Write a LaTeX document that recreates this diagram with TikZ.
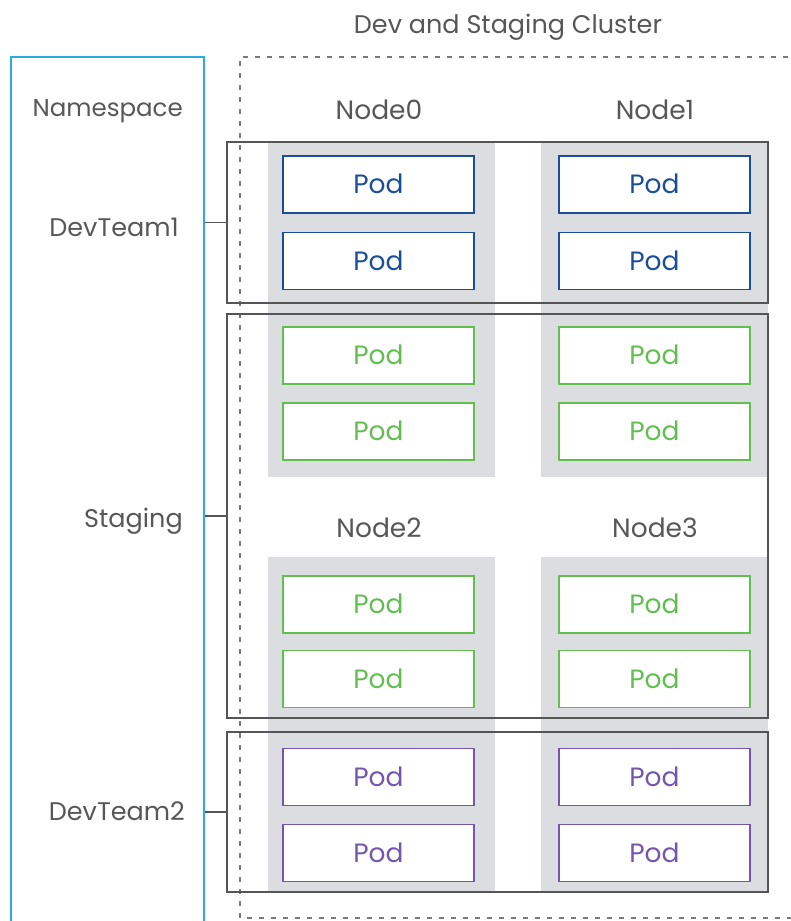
\documentclass[tikz,border=0pt]{standalone}
\usepackage{fontspec}
\setmainfont{Poppins}
\definecolor{txtgray}{HTML}{575757}
\definecolor{nsblue}{HTML}{2AABE2}
\definecolor{podblue}{HTML}{1A4F98}
\definecolor{podgreen}{HTML}{62BF4F}
\definecolor{podpurple}{HTML}{7456AE}
\definecolor{colgray}{HTML}{DCDDE0}
\definecolor{rectgray}{HTML}{555555}
\begin{document}
\begin{tikzpicture}[x=1pt,y=-1pt,
  lbl/.style={text=txtgray,font=\fontsize{25.5}{30}\selectfont,inner sep=0pt,anchor=base},
  nodelbl/.style={lbl,font=\fontsize{26.5}{30}\selectfont},
  nslbl/.style={lbl,anchor=base east},
  pod/.style={draw=#1,text=#1,line width=1.3pt,fill=white,minimum width=191pt,minimum height=57pt,inner sep=0pt,text height=18pt,text depth=0pt,font=\fontsize{26.5}{30}\selectfont},
  nsrect/.style={draw=rectgray,line width=1.4pt,minimum width=541pt,minimum height=#1,inner sep=0pt},
  col/.style={fill=colgray,draw=none,minimum width=227pt,minimum height=335pt,inner sep=0pt},
  cluster/.style={draw=txtgray!80,line width=1.4pt,dash pattern=on 5pt off 7pt}
]
\useasboundingbox (0,0) rectangle (790,921);
% gray node columns
\node[col] (c0) at (381.5,309.5) {};
\node[col] (c1) at (654.5,309.5) {};
\node[col] (c2) at (381.5,724.5) {};
\node[col] (c3) at (654.5,724.5) {};
% namespace box
\node[draw=nsblue,line width=1.3pt,minimum width=193pt,minimum height=900pt,inner sep=0pt] (ns) at (107.5,507) {};
% cluster
\coordinate (cl1) at (800,57);
\coordinate (cl2) at (240,57);
\coordinate (cl3) at (240,918);
\coordinate (cl4) at (800,918);
\draw[cluster] (cl1) -- (cl2) -- (cl3) -- (cl4);
\node[lbl] (clt) at (508,33) {Dev and Staging Cluster};
% namespace rects
\node[nsrect=161pt] (r1) at (497.5,222.5) {};
\node[nsrect=404pt] (r2) at (497.5,516) {};
\node[nsrect=160pt] (r3) at (497.5,812) {};
\draw[rectgray,line width=1.4pt] (r1.west) -- (r1.west -| ns.east);
\draw[rectgray,line width=1.4pt] (r2.west) -- (r2.west -| ns.east);
\draw[rectgray,line width=1.4pt] (r3.west) -- (r3.west -| ns.east);
% labels
\node[nslbl,font=\fontsize{24.5}{30}\selectfont] (nsl) at (183,116) {Namespace};
\node[nslbl] (d1) at (179,236) {DevTeam1};
\node[nslbl] (st) at (183,527) {Staging};
\node[nslbl] (d2) at (185,820) {DevTeam2};
\node[nodelbl] (n0) at (379,119) {Node0};
\node[nodelbl] (n1) at (655,119) {Node1};
\node[nodelbl] (n2) at (379,537) {Node2};
\node[nodelbl] (n3) at (655,537) {Node3};
% pods
\node[pod=podblue] (p01) at (378.5,184.5) {Pod};
\node[pod=podblue] (p02) at (378.5,261) {Pod};
\node[pod=podblue] (p11) at (654.5,184.5) {Pod};
\node[pod=podblue] (p12) at (654.5,261) {Pod};
\node[pod=podgreen] (p03) at (378.5,355.5) {Pod};
\node[pod=podgreen] (p04) at (378.5,431.5) {Pod};
\node[pod=podgreen] (p13) at (654.5,355.5) {Pod};
\node[pod=podgreen] (p14) at (654.5,431.5) {Pod};
\node[pod=podgreen] (p21) at (378.5,604.5) {Pod};
\node[pod=podgreen] (p22) at (378.5,679) {Pod};
\node[pod=podgreen] (p31) at (654.5,604.5) {Pod};
\node[pod=podgreen] (p32) at (654.5,679) {Pod};
\node[pod=podpurple] (p23) at (378.5,777) {Pod};
\node[pod=podpurple] (p24) at (378.5,853) {Pod};
\node[pod=podpurple] (p33) at (654.5,777) {Pod};
\node[pod=podpurple] (p34) at (654.5,853) {Pod};
\end{tikzpicture}
\end{document}
